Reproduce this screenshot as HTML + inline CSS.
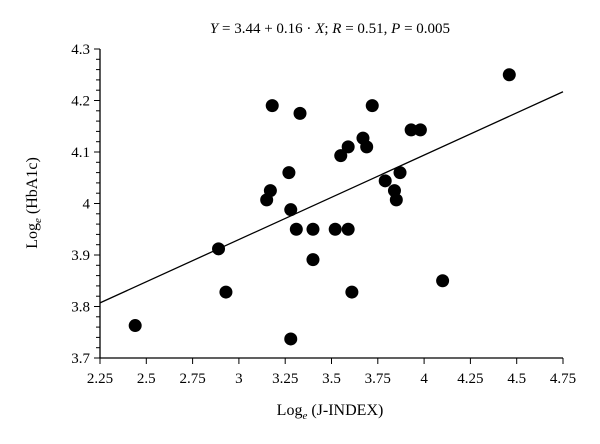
<!DOCTYPE html>
<html><head><meta charset="utf-8"><style>
body{margin:0;background:#fff;}
svg{display:block;font-family:"Liberation Serif",serif;}
</style></head><body>
<svg id="chart" width="600" height="444">
<text x="330" y="33" font-size="15" text-anchor="middle"><tspan font-style="italic">Y</tspan> = 3.44 + 0.16 · <tspan font-style="italic">X</tspan>; <tspan font-style="italic">R</tspan> = 0.51, <tspan font-style="italic">P</tspan> = 0.005</text>
<g id="axes"></g><g id="marks"></g>
<text x="330" y="415" font-size="16" text-anchor="middle">Log<tspan font-size="11" font-style="italic" dy="4">e</tspan><tspan dy="-4"> (J-INDEX)</tspan></text>
<text transform="translate(37,203) rotate(-90)" font-size="16" text-anchor="middle">Log<tspan font-size="11" font-style="italic" dy="4">e</tspan><tspan dy="-4"> (HbA1c)</tspan></text>
</svg>
<script>
const xVals=[2.44,2.89,2.93,3.15,3.17,3.18,3.27,3.28,3.28,3.31,3.33,3.40,3.40,3.52,3.55,3.59,3.59,3.61,3.67,3.69,3.72,3.79,3.84,3.85,3.87,3.93,3.98,4.10,4.46];
const yVals=[3.763,3.912,3.828,4.007,4.025,4.19,4.06,3.988,3.737,3.95,4.175,3.95,3.891,3.95,4.093,4.11,3.95,3.828,4.127,4.11,4.19,4.044,4.025,4.007,4.06,4.143,4.143,3.85,4.25];
const xTicks=[2.25,2.5,2.75,3,3.25,3.5,3.75,4,4.25,4.5,4.75];
const xTickLabels=["2.25","2.5","2.75","3","3.25","3.5","3.75","4","4.25","4.5","4.75"];
const yTicks=[3.7,3.8,3.9,4,4.1,4.2,4.3];
const yTickLabels=["3.7","3.8","3.9","4","4.1","4.2","4.3"];
const fitX=[2.25,4.75];
const fitY=[3.807,4.217];
const NS="http://www.w3.org/2000/svg";
const X0=100,X1=563,Y0=358,Y1=49;
const sx=v=>X0+(v-2.25)/(4.75-2.25)*(X1-X0);
const sy=v=>Y0-(v-3.7)/(4.3-3.7)*(Y0-Y1);
function mk(t,a,p){const e=document.createElementNS(NS,t);for(const k in a)e.setAttribute(k,a[k]);p.appendChild(e);return e;}
const ax=document.getElementById('axes'),mg=document.getElementById('marks');
let l=mk('line',{x1:X0,y1:Y1,x2:X0,y2:Y0,stroke:'#000','stroke-width':1.3},ax);


l=mk('line',{x1:X0,y1:Y0,x2:X1,y2:Y0,stroke:'#000','stroke-width':1.3},ax);


for(let i=0;i<=30;i++){const v=3.7+i*0.02;const y=sy(v);const major=i%5===0;
 const t=mk('line',{x1:X0-(major?6:4),y1:y,x2:X0,y2:y,stroke:'#000','stroke-width':1},ax);
 
 }
yTicks.forEach((v,i)=>{const t=mk('text',{x:X0-10,y:sy(v)+5,'font-size':15,'text-anchor':'end'},ax);t.textContent=yTickLabels[i];
 
 });
xTicks.forEach((v,i)=>{const t=mk('line',{x1:sx(v),y1:Y0,x2:sx(v),y2:Y0+6,stroke:'#000','stroke-width':1},ax);
 
 
 const tx=mk('text',{x:sx(v),y:Y0+25,'font-size':15,'text-anchor':'middle'},ax);tx.textContent=xTickLabels[i];
 
 });
const fl=mk('line',{x1:sx(fitX[0]),y1:sy(fitY[0]),x2:sx(fitX[1]),y2:sy(fitY[1]),stroke:'#000','stroke-width':1.3},mg);


xVals.forEach((v,i)=>{const c=mk('circle',{cx:sx(v),cy:sy(yVals[i]),r:6.5,fill:'#000'},mg);
 
 });
</script>
</body></html>
